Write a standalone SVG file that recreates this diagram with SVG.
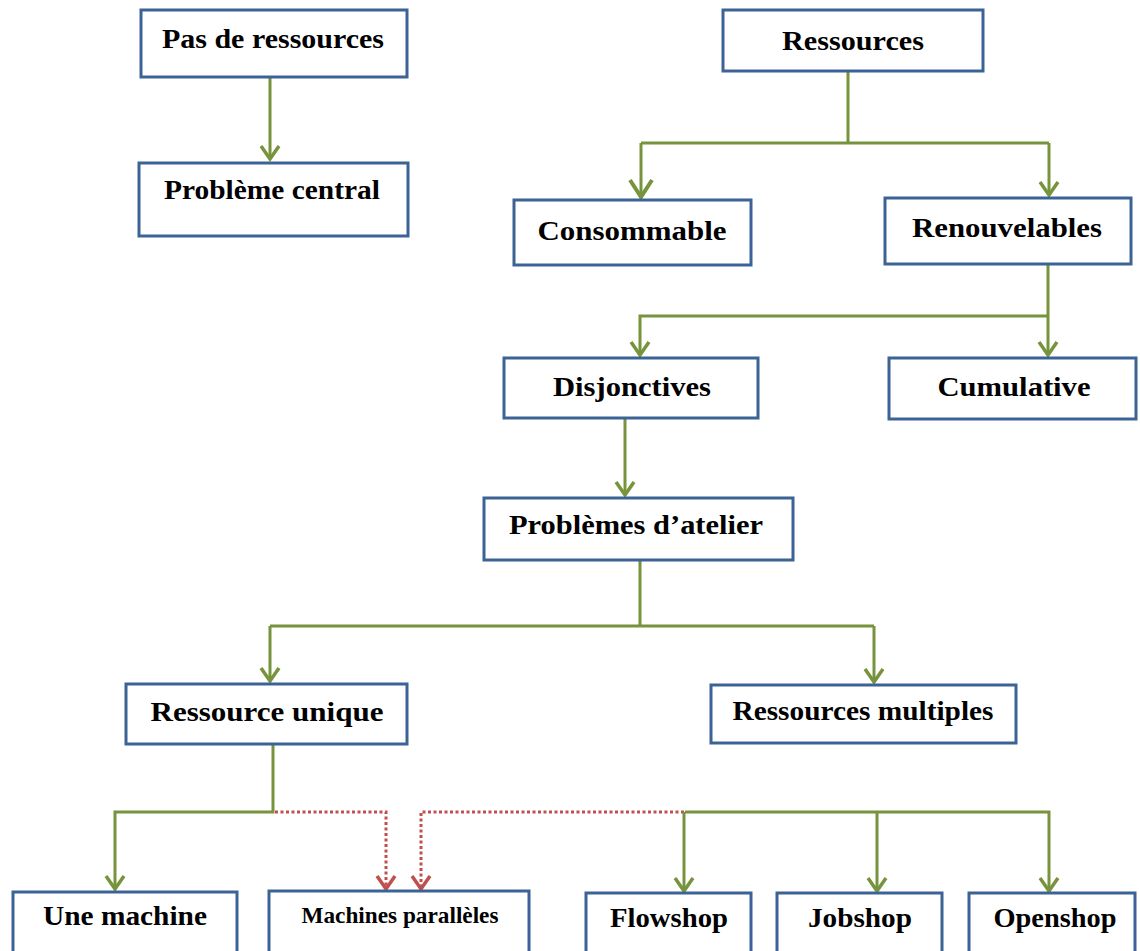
<svg xmlns="http://www.w3.org/2000/svg" width="1140" height="951" viewBox="0 0 1140 951">
  <style>
    .box rect { fill: #ffffff; stroke: #3B6396; stroke-width: 3; }
    .box text { font-family: "Liberation Serif", "Times New Roman", serif; font-weight: bold; font-size: 27px; fill: #000000; text-anchor: middle; }
    .link { fill: none; stroke: #77933C; stroke-width: 3; }
    .dot { fill: none; stroke: #C0504D; stroke-width: 3; stroke-dasharray: 3 2.5; }
  </style>
  <defs>
    <marker id="ah" markerUnits="userSpaceOnUse" viewBox="-16 -12 20 24" refX="0" refY="0" markerWidth="20" markerHeight="24" orient="auto">
      <path d="M-13,-9 L0,0 L-13,9" fill="none" stroke="#77933C" stroke-width="3.5" stroke-linejoin="miter"/>
    </marker>
    <marker id="ahBig" markerUnits="userSpaceOnUse" viewBox="-20 -14 24 28" refX="0" refY="0" markerWidth="24" markerHeight="28" orient="auto">
      <path d="M-17,-11 L0,0 L-17,11" fill="none" stroke="#77933C" stroke-width="4" stroke-linejoin="miter"/>
    </marker>
    <marker id="ahRed" markerUnits="userSpaceOnUse" viewBox="-16 -12 20 24" refX="0" refY="0" markerWidth="20" markerHeight="24" orient="auto">
      <path d="M-13,-9 L0,0 L-13,9" fill="none" stroke="#C0504D" stroke-width="3.5" stroke-linejoin="miter"/>
    </marker>
  </defs>

  <!-- connectors -->
  <g id="connectors">
    <path class="link" d="M270,78 V159" marker-end="url(#ah)"/>

    <path class="link" d="M848,72 V143"/>
    <path class="link" d="M641,143 H1049"/>
    <path class="link" d="M641,143 V197" marker-end="url(#ahBig)"/>
    <path class="link" d="M1049,143 V195" marker-end="url(#ah)"/>

    <path class="link" d="M1048,264 V355" marker-end="url(#ah)"/>
    <path class="link" d="M1048,316 H640 V355" marker-end="url(#ah)"/>

    <path class="link" d="M625,418 V495" marker-end="url(#ah)"/>

    <path class="link" d="M640,560 V626"/>
    <path class="link" d="M270,626 H874"/>
    <path class="link" d="M270,626 V681" marker-end="url(#ah)"/>
    <path class="link" d="M874,626 V682" marker-end="url(#ah)"/>

    <path class="link" d="M273,744 V812 H115 V889" marker-end="url(#ah)"/>
    <path class="dot" d="M275,812 H386 V889" marker-end="url(#ahRed)"/>
    <path class="dot" d="M684,812 H421 V889" marker-end="url(#ahRed)"/>
    <path class="link" d="M685,812 H1049 V891" marker-end="url(#ah)"/>
    <path class="link" d="M684,812 V891" marker-end="url(#ah)"/>
    <path class="link" d="M877,812 V891" marker-end="url(#ah)"/>
  </g>

  <!-- nodes -->
  <g id="pas-de-ressources" class="box">
    <rect x="141" y="10" width="266" height="67"/>
    <text x="273" y="48" textLength="222" lengthAdjust="spacingAndGlyphs">Pas de ressources</text>
  </g>
  <g id="probleme-central" class="box">
    <rect x="139" y="163" width="269" height="73"/>
    <text x="272" y="199" textLength="216" lengthAdjust="spacingAndGlyphs">Problème central</text>
  </g>
  <g id="ressources" class="box">
    <rect x="723" y="10" width="260" height="61"/>
    <text x="853" y="50" textLength="142" lengthAdjust="spacingAndGlyphs">Ressources</text>
  </g>
  <g id="consommable" class="box">
    <rect x="514" y="200" width="237" height="65"/>
    <text x="632" y="240" textLength="189" lengthAdjust="spacingAndGlyphs">Consommable</text>
  </g>
  <g id="renouvelables" class="box">
    <rect x="885" y="198" width="246" height="66"/>
    <text x="1007" y="237" textLength="190" lengthAdjust="spacingAndGlyphs">Renouvelables</text>
  </g>
  <g id="disjonctives" class="box">
    <rect x="504" y="358" width="254" height="60"/>
    <text x="632" y="396" textLength="158" lengthAdjust="spacingAndGlyphs">Disjonctives</text>
  </g>
  <g id="cumulative" class="box">
    <rect x="889" y="358" width="247" height="61"/>
    <text x="1014" y="396" textLength="153" lengthAdjust="spacingAndGlyphs">Cumulative</text>
  </g>
  <g id="problemes-atelier" class="box">
    <rect x="484" y="498" width="309" height="62"/>
    <text x="636" y="534" textLength="254" lengthAdjust="spacingAndGlyphs">Problèmes d’atelier</text>
  </g>
  <g id="ressource-unique" class="box">
    <rect x="126" y="684" width="281" height="60"/>
    <text x="267" y="721" textLength="233" lengthAdjust="spacingAndGlyphs">Ressource unique</text>
  </g>
  <g id="ressources-multiples" class="box">
    <rect x="711" y="685" width="305" height="58"/>
    <text x="863" y="720" textLength="261" lengthAdjust="spacingAndGlyphs">Ressources multiples</text>
  </g>
  <g id="une-machine" class="box">
    <rect x="13" y="892" width="224" height="70"/>
    <text x="125" y="925" textLength="164" lengthAdjust="spacingAndGlyphs">Une machine</text>
  </g>
  <g id="machines-paralleles" class="box">
    <rect x="269" y="891" width="260" height="70"/>
    <text x="400" y="923" style="font-size:24px" textLength="197" lengthAdjust="spacingAndGlyphs">Machines parallèles</text>
  </g>
  <g id="flowshop" class="box">
    <rect x="586" y="893" width="165" height="70"/>
    <text x="669" y="927" textLength="118" lengthAdjust="spacingAndGlyphs">Flowshop</text>
  </g>
  <g id="jobshop" class="box">
    <rect x="777" y="893" width="165" height="70"/>
    <text x="860" y="927" textLength="104" lengthAdjust="spacingAndGlyphs">Jobshop</text>
  </g>
  <g id="openshop" class="box">
    <rect x="969" y="893" width="166" height="70"/>
    <text x="1055" y="927" textLength="123" lengthAdjust="spacingAndGlyphs">Openshop</text>
  </g>
</svg>
